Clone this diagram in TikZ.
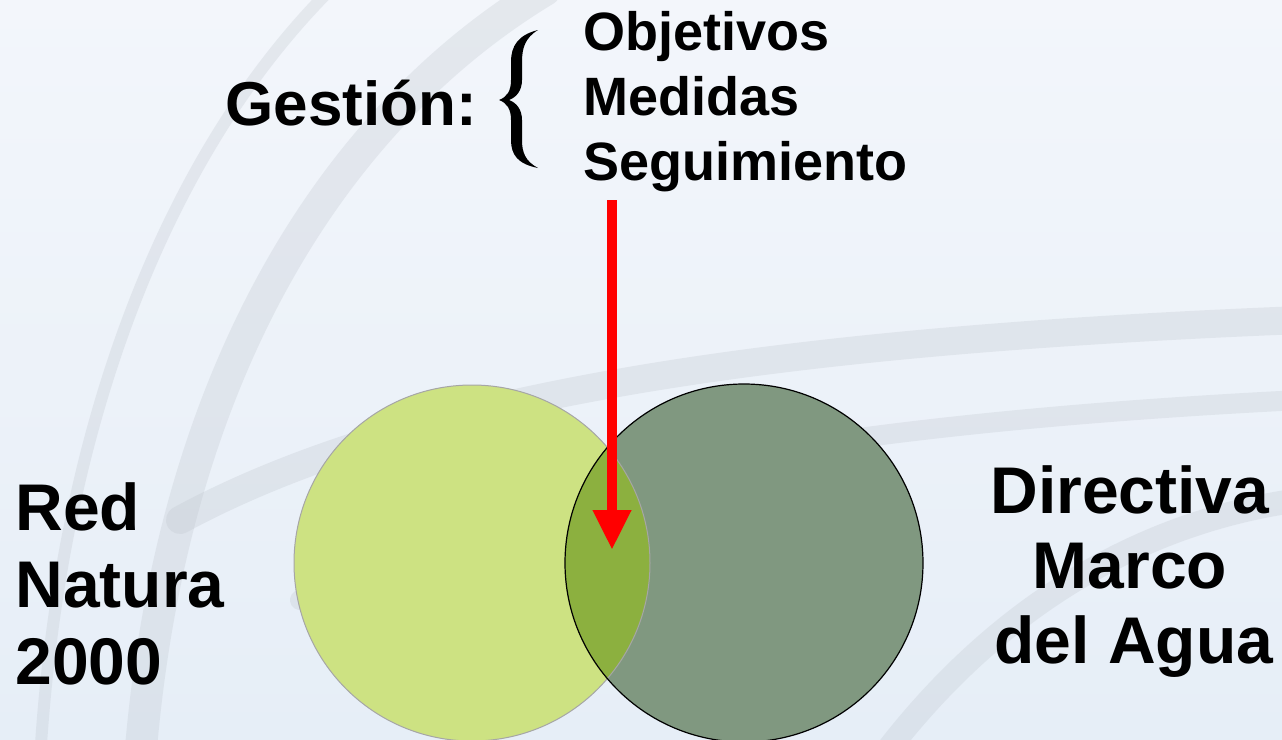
\documentclass[tikz,border=0pt]{standalone}
\usepackage{fontspec}
\setmainfont{Liberation Sans}
\usetikzlibrary{arrows.meta}
\definecolor{bgtop}{RGB}{243,246,251}
\definecolor{bgbot}{RGB}{230,238,247}
\definecolor{wm}{RGB}{190,196,204}
\definecolor{rnfill}{RGB}{205,226,130}
\definecolor{dmfill}{RGB}{128,152,128}
\definecolor{intfill}{RGB}{140,176,63}
\tikzset{
  lbl/.style={inner sep=0pt, font=\bfseries},
  wmband/.style={draw=wm, opacity=0.28, line cap=round},
  redarrow/.style={draw=red, line width=5pt, -{Triangle[length=20pt,width=18pt]}},
}
\begin{document}
\begin{tikzpicture}[x=0.5pt,y=-0.5pt]
\useasboundingbox (0,0) rectangle (1282,740);
\shade[top color=bgtop, bottom color=bgbot] (0,0) rectangle (1282,740);
% watermark
\draw[wmband, line width=16pt] (545,-10) .. controls (330,120) and (170,380) .. (140,760);
\draw[wmband, line width=6pt] (330,-10) .. controls (170,150) and (60,420) .. (40,760);
\draw[wmband, line width=14pt] (180,520) .. controls (420,390) and (800,340) .. (1300,320);
\draw[wmband, line width=10pt] (300,600) .. controls (500,470) and (900,420) .. (1300,400);
\draw[wmband, line width=12pt] (880,760) .. controls (1000,600) and (1150,520) .. (1300,500);
% circles
\node[circle, minimum size=178pt, inner sep=0pt] (rn) at (472,563) {};
\node[circle, minimum size=179pt, inner sep=0pt] (dm) at (744,563) {};
\fill[rnfill] (rn.center) circle[radius=89pt];
\fill[dmfill] (dm.center) circle[radius=89.5pt];
\begin{scope}
  \clip (rn.center) circle[radius=89pt];
  \fill[intfill] (dm.center) circle[radius=89.5pt];
\end{scope}
\draw[gray!70, line width=0.5pt] (rn.center) circle[radius=89pt];
\draw[black, line width=0.6pt] (dm.center) circle[radius=89.5pt];
% labels
\node[lbl, anchor=base west, font=\bfseries\fontsize{31}{37}\selectfont] (gest) at (225,125) {Gestión:};
\node[lbl, anchor=base west, font=\bfseries\fontsize{27}{32.5}\selectfont] (obj) at (583,50) {Objetivos};
\node[lbl, anchor=base west, font=\bfseries\fontsize{27}{32.5}\selectfont] (med) at (583,115) {Medidas};
\node[lbl, anchor=base west, font=\bfseries\fontsize{27}{32.5}\selectfont] (seg) at (583,180) {Seguimiento};
% brace
\fill[black] (538,30) .. controls (518,35) and (511,46) .. (511,62)
  -- (511,80) .. controls (511,91) and (507,97) .. (499,100)
  .. controls (507,103) and (511,109) .. (511,120)
  -- (511,140) .. controls (511,155) and (518,164) .. (538,168)
  .. controls (525,161) and (522,152) .. (522,140)
  -- (522,120) .. controls (522,110) and (517,103) .. (509,100)
  .. controls (517,97) and (522,90) .. (522,80)
  -- (522,62) .. controls (522,48) and (525,38) .. (538,30) -- cycle;
\node[lbl, anchor=base west, align=left, font=\bfseries\fontsize{33}{38.5}\selectfont] (red) at (15,530) {Red};
\node[lbl, anchor=base west, font=\bfseries\fontsize{33}{38.5}\selectfont] (nat) at (15,607) {Natura};
\node[lbl, anchor=base west, font=\bfseries\fontsize{33}{38.5}\selectfont] (yr) at (15,684) {2000};
\node[lbl, anchor=base, font=\bfseries\fontsize{33}{38.5}\selectfont] (dir) at (1130,513) {Directiva};
\node[lbl, anchor=base, font=\bfseries\fontsize{33}{38.5}\selectfont] (mar) at (1130,588) {Marco};
\node[lbl, anchor=base, font=\bfseries\fontsize{33}{38.5}\selectfont] (agua) at (1134,663) {del Agua};
% arrow
\coordinate (aS) at (612,200);
\coordinate (aE) at (612,550);
\draw[redarrow] (aS) -- (aE);
\end{tikzpicture}
\end{document}
